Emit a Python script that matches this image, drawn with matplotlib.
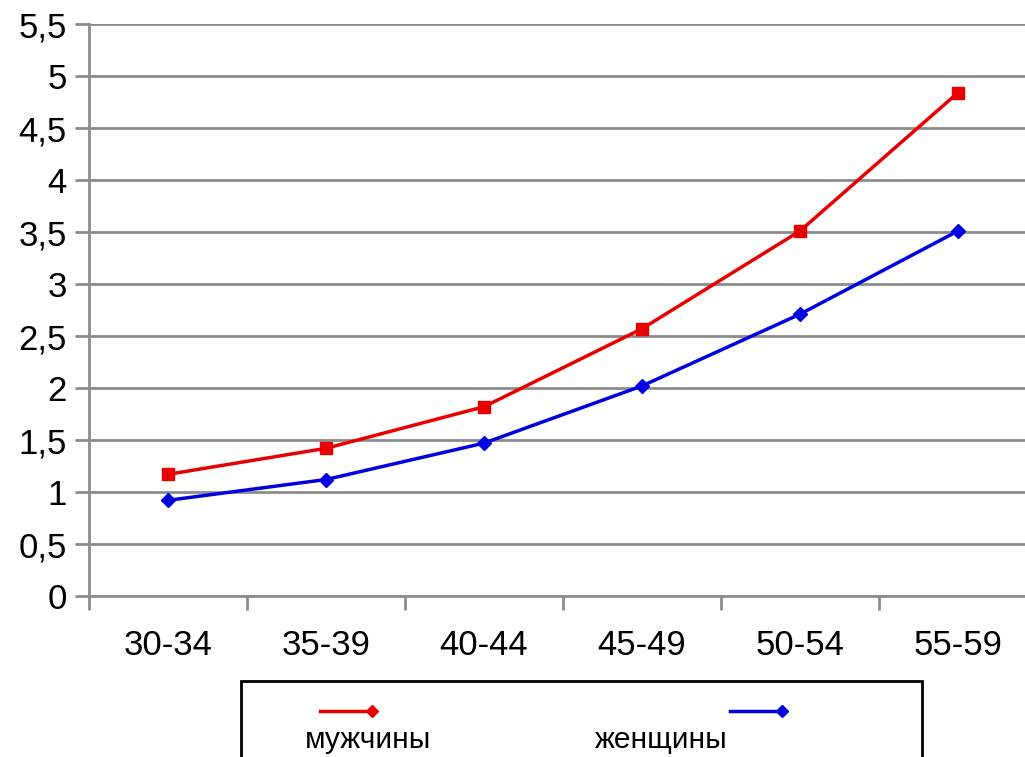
import matplotlib.pyplot as plt
from matplotlib.lines import Line2D
from matplotlib.patches import Rectangle
from matplotlib.ticker import FuncFormatter

plt.rcParams['font.family'] = ['Liberation Sans', 'DejaVu Sans']

ages = ["30-34", "35-39", "40-44", "45-49", "50-54", "55-59"]
men = [1.17, 1.42, 1.82, 2.57, 3.51, 4.84]
women = [0.92, 1.12, 1.47, 2.02, 2.71, 3.51]
yticks = [0, 0.5, 1, 1.5, 2, 2.5, 3, 3.5, 4, 4.5, 5, 5.5]

W, H = 1025, 757
fig = plt.figure(figsize=(W / 100, H / 100), dpi=100)
ax = fig.add_axes([89 / W, 1 - 596 / H, 948 / W, 572 / H])

x = list(range(len(ages)))
ax.plot(x, men, color="#e80000", lw=2.5, marker="s", ms=8, zorder=3)
ax.plot(x, women, color="#0000e0", lw=2.5, marker="D", ms=7, zorder=3)

ax.set_xlim(-0.5, len(ages) - 0.5)
ax.set_ylim(0, 5.5)
ax.set_yticks(yticks)
ax.yaxis.set_major_formatter(FuncFormatter(lambda v, p: ("%g" % v).replace(".", ",")))
ax.set_xticks([i - 0.5 for i in range(len(ages) + 1)], minor=False)
ax.set_xticklabels([])
ax.set_xticks(x, minor=True)
ax.set_xticklabels(ages, minor=True)

ax.grid(True, axis="y", color="#8c8c8c", lw=2)
ax.set_axisbelow(True)
for s in ["top", "right"]:
    ax.spines[s].set_visible(False)
for s in ["left", "bottom"]:
    ax.spines[s].set_color("#8c8c8c")
    ax.spines[s].set_linewidth(2)
ax.tick_params(axis="y", which="major", length=10, width=2, color="#8c8c8c",
               labelsize=25, pad=6)
ax.tick_params(axis="x", which="major", length=10, width=2, color="#8c8c8c")
ax.tick_params(axis="x", which="minor", length=0, labelsize=25, pad=24)

# legend box, partly cut by the bottom edge
fig.add_artist(Rectangle((241 / W, -0.05), (922 - 241) / W, 0.05 + (1 - 681 / H),
                         transform=fig.transFigure, fill=False, ec="black", lw=2))
entries = [("мужчины", "#e80000", 320, 305), ("женщины", "#0000e0", 730, 595)]
for label, col, lx, tx in entries:
    fig.add_artist(Line2D([lx / W, (lx + 52) / W], [1 - 711 / H, 1 - 711 / H],
                          transform=fig.transFigure, color=col, lw=2.5,
                          marker="D", ms=6, markevery=[1]))
    fig.text(tx / W, 1 - 740 / H, label, fontsize=21.5, va="center", ha="left")

fig.savefig("out.png", dpi=100)
